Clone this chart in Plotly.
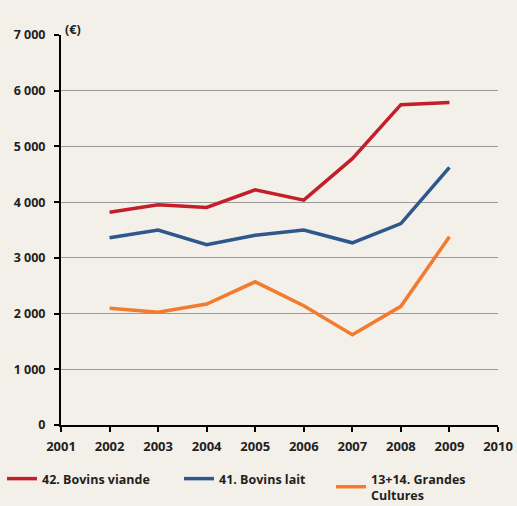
import plotly.graph_objects as go

years = [2002, 2003, 2004, 2005, 2006, 2007, 2008, 2009]
bovins_viande = [3820, 3955, 3905, 4220, 4035, 4780, 5750, 5790]
bovins_lait = [3360, 3500, 3235, 3405, 3500, 3270, 3615, 4625]
grandes_cultures = [2095, 2025, 2170, 2570, 2140, 1620, 2130, 3380]

names = ["42. Bovins viande", "41. Bovins lait", "13+14. Grandes<br>Cultures"]
colors = ["#C41E2B", "#2E578C", "#F37A2E"]
series = [bovins_viande, bovins_lait, grandes_cultures]
legends = ["legend", "legend2", "legend3"]

x_ticks = list(range(2001, 2011))
y_ticks = list(range(0, 8000, 1000))
y_tick_labels = ["0", "1 000", "2 000", "3 000", "4 000", "5 000", "6 000", "7 000"]

bg = "#F3F0EA"
font_family = "Open Sans"
txt = "#231F20"

fig = go.Figure()
for name, col, vals, lg in zip(names, colors, series, legends):
    fig.add_trace(go.Scatter(x=years, y=vals, mode="lines", name=name,
                             line=dict(color=col, width=3.5), legend=lg))

leg_common = dict(orientation="v", bgcolor="rgba(0,0,0,0)", yanchor="top", xanchor="left",
                  font=dict(family=font_family, size=12.5, color=txt, weight="bold"),
                  itemwidth=30, tracegroupgap=0)
plot_w = 517 - 61 - 19
plot_h = 425 - 35
def px_x(px):
    return (px - 61) / plot_w
def px_y(py):
    return (425 - py) / plot_h

fig.update_layout(
    width=517, height=506,
    margin=dict(l=61, r=19, t=35, b=81, autoexpand=False),
    paper_bgcolor=bg, plot_bgcolor=bg,
    showlegend=True,
    legend=dict(x=px_x(2), y=px_y(464), **leg_common),
    legend2=dict(x=px_x(179), y=px_y(464), **leg_common),
    legend3=dict(x=px_x(331), y=px_y(464), **leg_common),
    font=dict(family=font_family, color=txt),
    xaxis=dict(range=[2001, 2010], tickmode="array", tickvals=x_ticks,
               ticktext=[str(v) for v in x_ticks],
               showgrid=False, zeroline=False, showline=True, linecolor="black", linewidth=2,
               ticks="outside", ticklen=5, tickwidth=2, tickcolor="black",
               ticklabelstandoff=3,
               tickfont=dict(family=font_family, size=13, color=txt, weight="bold")),
    yaxis=dict(range=[0, 7000], tickmode="array", tickvals=y_ticks, ticktext=y_tick_labels,
               showgrid=True, gridcolor="#9A9A9A", gridwidth=1, zeroline=False,
               showline=True, linecolor="black", linewidth=2,
               ticks="outside", ticklen=5, tickwidth=2, tickcolor="black",
               ticklabelstandoff=6,
               tickfont=dict(family=font_family, size=12.5, color=txt, weight="bold")),
    annotations=[dict(text="(€)", x=px_x(63), y=px_y(19), xref="paper", yref="paper",
                      showarrow=False, font=dict(family=font_family, size=12.5, color=txt, weight="bold"))],
)

fig.write_html("out.html", config={"displayModeBar": False},
               post_script="document.body.style.margin='0';document.body.style.background='%s';" % bg)
